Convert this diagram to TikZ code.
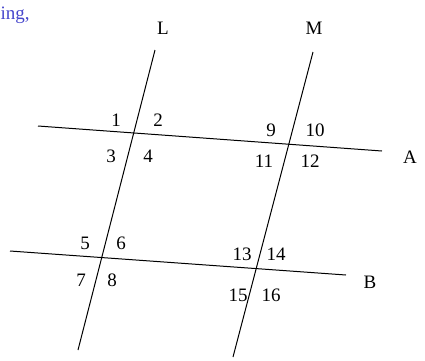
\documentclass[tikz,border=0pt]{standalone}
\usepackage{fontspec}
\setmainfont{Liberation Serif}
\usepackage{tikz}
\usetikzlibrary{positioning,calc}
\definecolor{LinkBlue}{HTML}{4646CC}

\tikzset{
  transversal/.style={line width=1pt,black},
  linename/.style={font=\fontsize{19}{22}\selectfont},
  anglenum/.style={font=\fontsize{19}{22}\selectfont,inner sep=0pt}
}

\begin{document}
\begin{tikzpicture}[x=1pt,y=-1pt]
  \useasboundingbox (0,0) rectangle (425,360);
  % Fragmento de texto arriba a la izquierda.
  \node[anchor=west,inner sep=0pt,text=LinkBlue,font=\fontsize{19}{22}\selectfont] (frag) at (0.5,15) {ing,};

  % Extremos de las rectas.
  \coordinate (Ltop) at (155,50);
  \coordinate (Lbot) at (78,350);
  \coordinate (Mtop) at (313,52);
  \coordinate (Mbot) at (233,357);
  \coordinate (Aleft) at (38,126);
  \coordinate (Aright) at (382,151);
  \coordinate (Bleft) at (10,251);
  \coordinate (Bright) at (346,275);

  \draw[transversal] (Aleft) -- (Aright);
  \draw[transversal] (Bleft) -- (Bright);
  \draw[transversal] (Lbot) -- (Ltop);
  \draw[transversal] (Mbot) -- (Mtop);

  \node[linename] (nameL) at (163,28) {L};
  \node[linename] (nameM) at (314,28) {M};
  \node[linename] (nameA) at (410,157) {A};
  \node[linename] (nameB) at (370,282) {B};

  \node[anglenum] (n1) at (116,120) {1};
  \node[anglenum] (n2) at (158,120) {2};
  \node[anglenum] (n3) at (111,156) {3};
  \node[anglenum] (n4) at (148,156) {4};
  \node[anglenum] (n5) at (85,243) {5};
  \node[anglenum] (n6) at (121,243) {6};
  \node[anglenum] (n7) at (81,280) {7};
  \node[anglenum] (n8) at (112,280) {8};
  \node[anglenum] (n9) at (271,130) {9};
  \node[anglenum] (n10) at (315,130) {10};
  \node[anglenum] (n11) at (264,161) {11};
  \node[anglenum] (n12) at (310,161) {12};
  \node[anglenum] (n13) at (242,254) {13};
  \node[anglenum] (n14) at (276,254) {14};
  \node[anglenum] (n15) at (238,295) {15};
  \node[anglenum] (n16) at (271,295) {16};
\end{tikzpicture}
\end{document}
